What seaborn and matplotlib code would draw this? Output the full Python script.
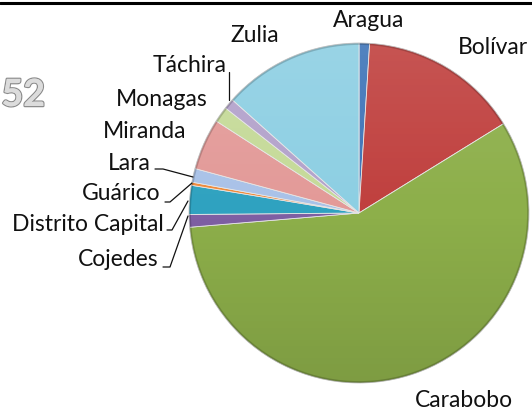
import numpy as np
import matplotlib
matplotlib.use("Agg")
import matplotlib.pyplot as plt
import matplotlib.patheffects as pe
from matplotlib.lines import Line2D
from matplotlib.patches import Circle
import seaborn as sns

states = ["Aragua", "Bolívar", "Carabobo", "Cojedes", "Distrito Capital",
          "Guárico", "Lara", "Miranda", "Monagas", "Táchira", "Zulia"]
shares = [1.0, 15.2, 57.5, 1.2, 2.75, 0.3, 1.3, 4.9, 1.5, 1.0, 13.4]
colors = ["#3E74B8", "#C0403E", "#8DAF4A", "#7E5FA3", "#2FA2C0",
          "#F08A3A", "#A9C2E8", "#E39A98", "#C5DA98", "#B3A2CB", "#8DCFE3"]

sns.set_theme(style="white")
plt.rcParams['font.family'] = ['Lato', 'DejaVu Sans']

W, H = 532, 415
fig = plt.figure(figsize=(W / 100, H / 100), dpi=100)
ax = fig.add_axes([0, 0, 1, 1])

cx, cy, r = 359, H - 213, 170
ax.pie(shares, colors=colors, startangle=90, counterclock=False,
       center=(cx, cy), radius=r,
       wedgeprops=dict(edgecolor="#e6e6e6", linewidth=0.6))
ax.set_xlim(0, W)
ax.set_ylim(0, H)
ax.set_aspect("equal")
ax.set_axis_off()

# soft vertical shading over the pie (lighter top, darker bottom)
n = 256
t = np.linspace(0, 1, n)
img = np.zeros((n, 1, 4))
img[:, 0, :3] = np.where(t[:, None] < 0.5, 1.0, 0.0)
img[:, 0, 3] = np.abs(t - 0.5) * 0.22
circ = Circle((cx, cy), r, transform=ax.transData)
im = ax.imshow(img, extent=(cx - r, cx + r, cy - r, cy + r), origin="upper",
               aspect="auto", zorder=3, interpolation="bilinear")
im.set_clip_path(circ)
ax.add_patch(Circle((cx, cy), r - 0.8, fill=False, edgecolor="black",
                    alpha=0.18, lw=1.6, zorder=4))
ax.set_xlim(0, W)
ax.set_ylim(0, H)

def Y(y):
    return H - y

fs = 16.5
labels_pos = {
    "Aragua": (369, 21),
    "Bolívar": (493, 48),
    "Carabobo": (464, 400),
    "Zulia": (255, 36),
    "Táchira": (190, 65),
    "Monagas": (162, 100),
    "Miranda": (145, 131),
    "Lara": (129, 164),
    "Guárico": (121, 194),
    "Distrito Capital": (88, 224),
    "Cojedes": (118, 260),
}
for name, (x, y) in labels_pos.items():
    ax.text(x, Y(y), name, ha="center", va="center", fontsize=fs, color="#111111")

leaders = [
    [(229, 72), (229, 100)],
    [(155, 169), (163, 169), (193, 177)],
    [(165, 202), (170, 202), (192, 183)],
    [(167, 230), (172, 230), (188, 201)],
    [(163, 267), (170, 267), (188, 216)],
]
for pts in leaders:
    xs = [p[0] for p in pts]
    ys = [Y(p[1]) for p in pts]
    ax.plot(xs, ys, color="#111111", lw=0.9, zorder=5)

tx = ax.text(45, Y(95), "52", ha="right", va="center", fontsize=27,
             fontweight="bold", color="#dcdcdc")
tx.set_path_effects([pe.withStroke(linewidth=1.8, foreground="#8c8c8c"), pe.Normal()])

fig.add_artist(Line2D([0, 1], [1 - 3.5 / H, 1 - 3.5 / H], color="black", lw=2.2,
                      transform=fig.transFigure))

fig.savefig("out.png", dpi=100)
